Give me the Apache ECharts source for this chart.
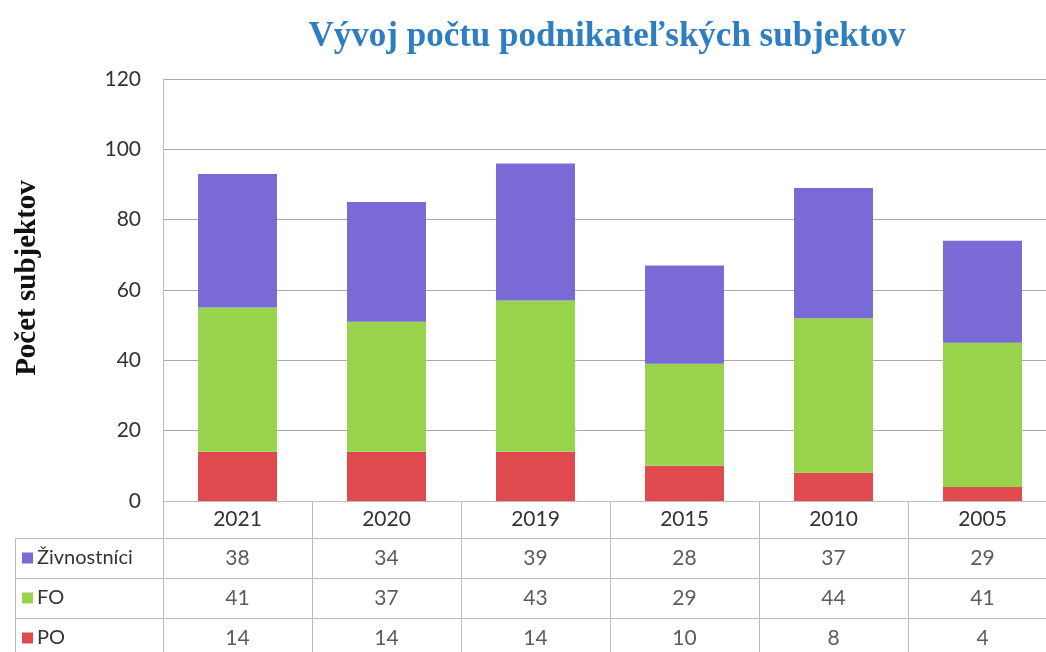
<!DOCTYPE html>
<html>
<head>
<meta charset="utf-8">
<script src="https://cdn.jsdelivr.net/npm/echarts@6/dist/echarts.min.js"></script>
<style>
  html, body { margin: 0; padding: 0; background: #fff; }
  #chart { width: 1046px; height: 652px; }
</style>
</head>
<body>
<div id="chart"></div>
<script>
const years = ['2021', '2020', '2019', '2015', '2010', '2005']
const seriesNames = ['Živnostníci', 'FO', 'PO']
const zivnostnici = [38, 34, 39, 28, 37, 29]
const fo = [41, 37, 43, 29, 44, 41]
const po = [14, 14, 14, 10, 8, 4]
const yTicks = [0, 20, 40, 60, 80, 100, 120]

const colors = {
  'Živnostníci': '#7a6ad6',
  'FO': '#98d34c',
  'PO': '#e04a4e'
}
const lineGray = '#bdbdbd'
const textGray = '#333333'
const numFont = 'Lato'

const rowValues = { 'Živnostníci': zivnostnici, 'FO': fo, 'PO': po }

// table cells built from the arrays: [year, rowName, value]
const cells = []
seriesNames.forEach(name => {
  rowValues[name].forEach((v, i) => cells.push([years[i], name, v]))
})

const rich = {}
seriesNames.forEach((name, i) => {
  rich['k' + i] = { width: 11, height: 11, backgroundColor: colors[name] }
})
rich.t = { fontFamily: numFont, fontSize: 20, color: textGray, padding: [0, 0, 0, 4] }

const chart = echarts.init(document.getElementById('chart'))

chart.setOption({
  backgroundColor: '#fff',
  animation: false,
  title: {
    text: 'Vývoj počtu podnikateľských subjektov',
    left: 602,
    top: 14,
    textAlign: 'center',
    textStyle: {
      fontFamily: 'Liberation Serif',
      fontWeight: 'bold',
      fontSize: 35,
      color: '#2f7ec1'
    }
  },
  grid: [
    { left: 163, top: 79, width: 894, height: 422, outerBoundsMode: 'none' },
    { left: 163, top: 538, width: 894, height: 120, outerBoundsMode: 'none' }
  ],
  xAxis: [
    {
      gridIndex: 0,
      type: 'category',
      data: years,
      axisLine: { show: true, lineStyle: { color: lineGray } },
      axisTick: { show: true, length: 160, interval: 0, lineStyle: { color: lineGray } },
      axisLabel: { fontFamily: numFont, fontSize: 21, color: textGray, margin: 8, interval: 0 }
    },
    {
      gridIndex: 1,
      type: 'category',
      data: years,
      position: 'top',
      axisLine: { show: true, lineStyle: { color: lineGray } },
      axisTick: { show: false },
      axisLabel: { show: false }
    }
  ],
  yAxis: [
    {
      gridIndex: 0,
      type: 'value',
      min: yTicks[0],
      max: yTicks[yTicks.length - 1],
      interval: 20,
      name: 'Počet subjektov',
      nameLocation: 'middle',
      nameRotate: 90,
      nameGap: 121,
      nameTextStyle: {
        fontFamily: 'Liberation Serif',
        fontWeight: 'bold',
        fontSize: 29,
        color: '#111',
        padding: [0, 0, 0, 24]
      },
      axisLine: { show: true, lineStyle: { color: lineGray } },
      axisTick: { show: false },
      axisLabel: { fontFamily: numFont, fontSize: 21, color: textGray, margin: 22 },
      splitLine: { show: true, lineStyle: { color: '#aaaaaa', width: 1 } }
    },
    {
      gridIndex: 1,
      type: 'category',
      data: seriesNames,
      inverse: true,
      axisLine: { show: false },
      axisTick: { show: true, length: 148, interval: 0, lineStyle: { color: lineGray } },
      axisLabel: {
        align: 'left',
        margin: 141,
        interval: 0,
        formatter: v => '{k' + seriesNames.indexOf(v) + '|}{t|' + v + '}',
        rich: rich
      },
      splitLine: { show: true, lineStyle: { color: lineGray } }
    },
    {
      gridIndex: 1,
      type: 'category',
      data: seriesNames,
      inverse: true,
      position: 'left',
      offset: 148,
      axisLine: { show: true, lineStyle: { color: lineGray } },
      axisTick: { show: false },
      axisLabel: { show: false }
    }
  ],
  series: [
    {
      name: 'PO', type: 'bar', stack: 'total', data: po,
      barCategoryGap: '47%',
      itemStyle: { color: colors['PO'] }
    },
    {
      name: 'FO', type: 'bar', stack: 'total', data: fo,
      barCategoryGap: '47%',
      itemStyle: { color: colors['FO'] }
    },
    {
      name: 'Živnostníci', type: 'bar', stack: 'total', data: zivnostnici,
      barCategoryGap: '47%',
      itemStyle: { color: colors['Živnostníci'] }
    },
    {
      type: 'scatter',
      xAxisIndex: 1,
      yAxisIndex: 1,
      data: cells,
      symbolSize: 1,
      itemStyle: { color: 'rgba(0,0,0,0)' },
      label: {
        show: true,
        position: 'inside',
        formatter: p => String(p.value[2]),
        fontFamily: numFont,
        fontSize: 21,
        color: textGray
      }
    }
  ]
})
</script>
</body>
</html>
